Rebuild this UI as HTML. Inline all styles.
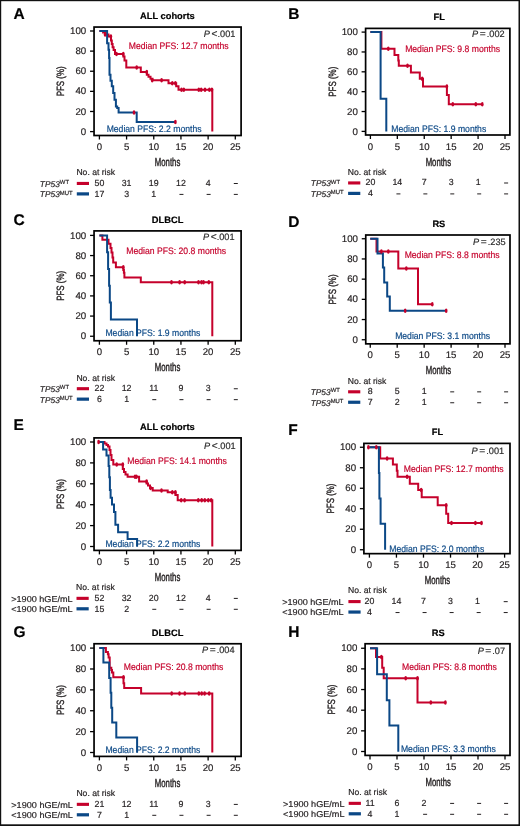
<!DOCTYPE html>
<html><head><meta charset="utf-8"><title>Figure</title>
<style>
html,body{margin:0;padding:0;background:#fff;}
body{width:520px;height:826px;overflow:hidden;}
svg{display:block;font-family:"Liberation Sans", sans-serif;will-change:transform;text-rendering:geometricPrecision;}
.wrap{opacity:0.999;}
</style></head><body><div class="wrap">
<svg width="520" height="826" viewBox="0 0 520 826">
<rect x="0" y="0" width="520" height="826" fill="#fff"/>
<rect x="0" y="0" width="520" height="1.2" fill="#111"/>
<rect x="0" y="0" width="1.2" height="826" fill="#111"/>
<rect x="518.5" y="0" width="1.5" height="826" fill="#111"/>
<rect x="0" y="824.3" width="520" height="1.7" fill="#111"/>
<text x="13.50" y="19.00" font-size="15.5" text-anchor="start" font-weight="bold" font-style="normal" fill="#000" stroke="#000" stroke-width="0.18" >A</text>
<text x="167.38" y="19.45" font-size="9.3" text-anchor="middle" font-weight="bold" font-style="normal" fill="#000" stroke="#000" stroke-width="0.18" >ALL cohorts</text>
<rect x="94.05" y="27.05" width="147.05" height="108.45" fill="none" stroke="#000" stroke-width="1.7"/>
<line x1="90.05" y1="131.60" x2="94.05" y2="131.60" stroke="#000" stroke-width="1.3"/>
<text x="86.25" y="134.70" font-size="9.7" text-anchor="end" font-weight="normal" font-style="normal" fill="#231f20" stroke="#231f20" stroke-width="0.18" >0</text>
<line x1="90.05" y1="111.48" x2="94.05" y2="111.48" stroke="#000" stroke-width="1.3"/>
<text x="86.25" y="114.58" font-size="9.7" text-anchor="end" font-weight="normal" font-style="normal" fill="#231f20" stroke="#231f20" stroke-width="0.18" >20</text>
<line x1="90.05" y1="91.36" x2="94.05" y2="91.36" stroke="#000" stroke-width="1.3"/>
<text x="86.25" y="94.46" font-size="9.7" text-anchor="end" font-weight="normal" font-style="normal" fill="#231f20" stroke="#231f20" stroke-width="0.18" >40</text>
<line x1="90.05" y1="71.24" x2="94.05" y2="71.24" stroke="#000" stroke-width="1.3"/>
<text x="86.25" y="74.34" font-size="9.7" text-anchor="end" font-weight="normal" font-style="normal" fill="#231f20" stroke="#231f20" stroke-width="0.18" >60</text>
<line x1="90.05" y1="51.12" x2="94.05" y2="51.12" stroke="#000" stroke-width="1.3"/>
<text x="86.25" y="54.22" font-size="9.7" text-anchor="end" font-weight="normal" font-style="normal" fill="#231f20" stroke="#231f20" stroke-width="0.18" >80</text>
<line x1="90.05" y1="31.00" x2="94.05" y2="31.00" stroke="#000" stroke-width="1.3"/>
<text x="86.25" y="34.10" font-size="9.7" text-anchor="end" font-weight="normal" font-style="normal" fill="#231f20" stroke="#231f20" stroke-width="0.18" >100</text>
<line x1="99.40" y1="135.50" x2="99.40" y2="139.50" stroke="#000" stroke-width="1.3"/>
<text x="99.40" y="150.00" font-size="9.6" text-anchor="middle" font-weight="normal" font-style="normal" fill="#231f20" stroke="#231f20" stroke-width="0.18" >0</text>
<line x1="126.58" y1="135.50" x2="126.58" y2="139.50" stroke="#000" stroke-width="1.3"/>
<text x="126.58" y="150.00" font-size="9.6" text-anchor="middle" font-weight="normal" font-style="normal" fill="#231f20" stroke="#231f20" stroke-width="0.18" >5</text>
<line x1="153.76" y1="135.50" x2="153.76" y2="139.50" stroke="#000" stroke-width="1.3"/>
<text x="153.76" y="150.00" font-size="9.6" text-anchor="middle" font-weight="normal" font-style="normal" fill="#231f20" stroke="#231f20" stroke-width="0.18" >10</text>
<line x1="180.94" y1="135.50" x2="180.94" y2="139.50" stroke="#000" stroke-width="1.3"/>
<text x="180.94" y="150.00" font-size="9.6" text-anchor="middle" font-weight="normal" font-style="normal" fill="#231f20" stroke="#231f20" stroke-width="0.18" >15</text>
<line x1="208.12" y1="135.50" x2="208.12" y2="139.50" stroke="#000" stroke-width="1.3"/>
<text x="208.12" y="150.00" font-size="9.6" text-anchor="middle" font-weight="normal" font-style="normal" fill="#231f20" stroke="#231f20" stroke-width="0.18" >20</text>
<line x1="235.30" y1="135.50" x2="235.30" y2="139.50" stroke="#000" stroke-width="1.3"/>
<text x="235.30" y="150.00" font-size="9.6" text-anchor="middle" font-weight="normal" font-style="normal" fill="#231f20" stroke="#231f20" stroke-width="0.18" >25</text>
<text x="167.57" y="166.00" font-size="11.6" text-anchor="middle" fill="#231f20" stroke="#231f20" stroke-width="0.42" textLength="25.4" lengthAdjust="spacingAndGlyphs">Months</text>
<text transform="translate(64.05,81.28) rotate(-90)" x="0" y="0" font-size="10.5" text-anchor="middle" fill="#231f20" stroke="#231f20" stroke-width="0.36" textLength="30" lengthAdjust="spacingAndGlyphs">PFS (%)</text>
<text x="235.40" y="36.50" font-size="9.2" text-anchor="end" fill="#2b2b2b" stroke="#2b2b2b" stroke-width="0.18"><tspan font-style="italic">P</tspan><tspan dx="1.6" font-size="10.2">&lt;</tspan><tspan dx="0.1">.001</tspan></text>
<text x="128.84" y="48.60" font-size="9.4" text-anchor="start" font-weight="normal" font-style="normal" fill="#c5002b" stroke="#c5002b" stroke-width="0.18" textLength="99.66" lengthAdjust="spacingAndGlyphs">Median PFS: 12.7 months</text>
<text x="106.63" y="131.60" font-size="9.4" text-anchor="start" font-weight="normal" font-style="normal" fill="#0b4886" stroke="#0b4886" stroke-width="0.18" textLength="94.87" lengthAdjust="spacingAndGlyphs">Median PFS: 2.2 months</text>
<path d="M99.4,31 H103.1 V32.6 H105.5 V34.6 H108.5 V36.4 H111 V40.5 H111.8 V44 H112.6 V47.2 H113.6 V50 H115 V53.9 H123.3 V56.5 H124.5 V60.6 H126.3 V67.4 H140.8 V72.1 H146.8 V74.8 H148.5 V76.8 H150.5 V78.8 H152.5 V80.2 H168.5 V83.2 H176.2 V86.2 H178.5 V89.8 H212.3 V131.6" fill="none" stroke="#c5002b" stroke-width="2.0" stroke-linejoin="miter"/>
<path d="M99.4,31 H107.1 V43.3 H108.5 V49.8 H109.1 V58 H109.5 V74.8 H110.5 V80.8 H111.8 V86.2 H113.2 V92.9 H114.5 V99.7 H115.9 V106.4 H117.2 V108 H118.6 V112.5 H136.7 V122 H175.4" fill="none" stroke="#0b4886" stroke-width="2.0" stroke-linejoin="miter"/>
<ellipse cx="105.10" cy="34.60" rx="1.35" ry="2.25" fill="#c5002b"/>
<ellipse cx="110.90" cy="36.40" rx="1.35" ry="2.25" fill="#c5002b"/>
<ellipse cx="116.50" cy="53.90" rx="1.35" ry="2.25" fill="#c5002b"/>
<ellipse cx="123.30" cy="53.90" rx="1.35" ry="2.25" fill="#c5002b"/>
<ellipse cx="136.70" cy="67.40" rx="1.35" ry="2.25" fill="#c5002b"/>
<ellipse cx="146.80" cy="72.10" rx="1.35" ry="2.25" fill="#c5002b"/>
<ellipse cx="152.20" cy="80.20" rx="1.35" ry="2.25" fill="#c5002b"/>
<ellipse cx="161.60" cy="80.20" rx="1.35" ry="2.25" fill="#c5002b"/>
<ellipse cx="172.30" cy="83.20" rx="1.35" ry="2.25" fill="#c5002b"/>
<ellipse cx="175.40" cy="83.20" rx="1.35" ry="2.25" fill="#c5002b"/>
<ellipse cx="181.50" cy="89.80" rx="1.35" ry="2.25" fill="#c5002b"/>
<ellipse cx="183.80" cy="89.80" rx="1.35" ry="2.25" fill="#c5002b"/>
<ellipse cx="198.80" cy="89.80" rx="1.35" ry="2.25" fill="#c5002b"/>
<ellipse cx="201.20" cy="89.80" rx="1.35" ry="2.25" fill="#c5002b"/>
<ellipse cx="205.00" cy="89.80" rx="1.35" ry="2.25" fill="#c5002b"/>
<ellipse cx="209.40" cy="89.80" rx="1.35" ry="2.25" fill="#c5002b"/>
<ellipse cx="211.90" cy="89.80" rx="1.35" ry="2.25" fill="#c5002b"/>
<ellipse cx="134.00" cy="112.50" rx="1.35" ry="2.25" fill="#c5002b"/>
<ellipse cx="175.40" cy="122.00" rx="1.35" ry="2.25" fill="#c5002b"/>
<text x="76.40" y="175.30" font-size="8.6" text-anchor="start" font-weight="normal" font-style="normal" fill="#231f20" stroke="#231f20" stroke-width="0.18" >No. at risk</text>
<rect x="76.80" y="181.90" width="12.2" height="3.1" fill="#c5002b"/>
<rect x="76.80" y="192.30" width="12.2" height="3.2" fill="#0b4886"/>
<text x="39.80" y="186.80" font-size="8.4" fill="#231f20" stroke="#231f20" stroke-width="0.18"><tspan font-style="italic">TP53</tspan><tspan font-size="5.9" dy="-2.7">WT</tspan></text>
<text x="39.80" y="197.30" font-size="8.4" fill="#231f20" stroke="#231f20" stroke-width="0.18"><tspan font-style="italic">TP53</tspan><tspan font-size="5.9" dy="-2.7">MUT</tspan></text>
<text x="99.40" y="185.90" font-size="8.8" text-anchor="middle" font-weight="normal" font-style="normal" fill="#231f20" stroke="#231f20" stroke-width="0.18" >50</text>
<text x="99.40" y="196.80" font-size="8.8" text-anchor="middle" font-weight="normal" font-style="normal" fill="#231f20" stroke="#231f20" stroke-width="0.18" >17</text>
<text x="126.58" y="185.90" font-size="8.8" text-anchor="middle" font-weight="normal" font-style="normal" fill="#231f20" stroke="#231f20" stroke-width="0.18" >31</text>
<text x="126.58" y="196.80" font-size="8.8" text-anchor="middle" font-weight="normal" font-style="normal" fill="#231f20" stroke="#231f20" stroke-width="0.18" >3</text>
<text x="153.76" y="185.90" font-size="8.8" text-anchor="middle" font-weight="normal" font-style="normal" fill="#231f20" stroke="#231f20" stroke-width="0.18" >19</text>
<text x="153.76" y="196.80" font-size="8.8" text-anchor="middle" font-weight="normal" font-style="normal" fill="#231f20" stroke="#231f20" stroke-width="0.18" >1</text>
<text x="180.94" y="185.90" font-size="8.8" text-anchor="middle" font-weight="normal" font-style="normal" fill="#231f20" stroke="#231f20" stroke-width="0.18" >12</text>
<rect x="179.44" y="193.90" width="4.0" height="1.0" fill="#231f20"/>
<text x="208.12" y="185.90" font-size="8.8" text-anchor="middle" font-weight="normal" font-style="normal" fill="#231f20" stroke="#231f20" stroke-width="0.18" >4</text>
<rect x="206.62" y="193.90" width="4.0" height="1.0" fill="#231f20"/>
<rect x="233.80" y="183.00" width="4.0" height="1.0" fill="#231f20"/>
<rect x="233.80" y="193.90" width="4.0" height="1.0" fill="#231f20"/>
<text x="288.20" y="19.00" font-size="15.5" text-anchor="start" font-weight="bold" font-style="normal" fill="#000" stroke="#000" stroke-width="0.18" >B</text>
<text x="439.15" y="20.40" font-size="9.3" text-anchor="middle" font-weight="bold" font-style="normal" fill="#000" stroke="#000" stroke-width="0.18" >FL</text>
<rect x="365.6" y="28.4" width="144.30" height="106.60" fill="none" stroke="#000" stroke-width="1.7"/>
<line x1="361.60" y1="131.40" x2="365.60" y2="131.40" stroke="#000" stroke-width="1.3"/>
<text x="357.80" y="134.50" font-size="9.7" text-anchor="end" font-weight="normal" font-style="normal" fill="#231f20" stroke="#231f20" stroke-width="0.18" >0</text>
<line x1="361.60" y1="111.54" x2="365.60" y2="111.54" stroke="#000" stroke-width="1.3"/>
<text x="357.80" y="114.64" font-size="9.7" text-anchor="end" font-weight="normal" font-style="normal" fill="#231f20" stroke="#231f20" stroke-width="0.18" >20</text>
<line x1="361.60" y1="91.68" x2="365.60" y2="91.68" stroke="#000" stroke-width="1.3"/>
<text x="357.80" y="94.78" font-size="9.7" text-anchor="end" font-weight="normal" font-style="normal" fill="#231f20" stroke="#231f20" stroke-width="0.18" >40</text>
<line x1="361.60" y1="71.82" x2="365.60" y2="71.82" stroke="#000" stroke-width="1.3"/>
<text x="357.80" y="74.92" font-size="9.7" text-anchor="end" font-weight="normal" font-style="normal" fill="#231f20" stroke="#231f20" stroke-width="0.18" >60</text>
<line x1="361.60" y1="51.96" x2="365.60" y2="51.96" stroke="#000" stroke-width="1.3"/>
<text x="357.80" y="55.06" font-size="9.7" text-anchor="end" font-weight="normal" font-style="normal" fill="#231f20" stroke="#231f20" stroke-width="0.18" >80</text>
<line x1="361.60" y1="32.10" x2="365.60" y2="32.10" stroke="#000" stroke-width="1.3"/>
<text x="357.80" y="35.20" font-size="9.7" text-anchor="end" font-weight="normal" font-style="normal" fill="#231f20" stroke="#231f20" stroke-width="0.18" >100</text>
<line x1="370.40" y1="135.00" x2="370.40" y2="139.00" stroke="#000" stroke-width="1.3"/>
<text x="370.40" y="149.50" font-size="9.6" text-anchor="middle" font-weight="normal" font-style="normal" fill="#231f20" stroke="#231f20" stroke-width="0.18" >0</text>
<line x1="397.32" y1="135.00" x2="397.32" y2="139.00" stroke="#000" stroke-width="1.3"/>
<text x="397.32" y="149.50" font-size="9.6" text-anchor="middle" font-weight="normal" font-style="normal" fill="#231f20" stroke="#231f20" stroke-width="0.18" >5</text>
<line x1="424.24" y1="135.00" x2="424.24" y2="139.00" stroke="#000" stroke-width="1.3"/>
<text x="424.24" y="149.50" font-size="9.6" text-anchor="middle" font-weight="normal" font-style="normal" fill="#231f20" stroke="#231f20" stroke-width="0.18" >10</text>
<line x1="451.16" y1="135.00" x2="451.16" y2="139.00" stroke="#000" stroke-width="1.3"/>
<text x="451.16" y="149.50" font-size="9.6" text-anchor="middle" font-weight="normal" font-style="normal" fill="#231f20" stroke="#231f20" stroke-width="0.18" >15</text>
<line x1="478.08" y1="135.00" x2="478.08" y2="139.00" stroke="#000" stroke-width="1.3"/>
<text x="478.08" y="149.50" font-size="9.6" text-anchor="middle" font-weight="normal" font-style="normal" fill="#231f20" stroke="#231f20" stroke-width="0.18" >20</text>
<line x1="505.00" y1="135.00" x2="505.00" y2="139.00" stroke="#000" stroke-width="1.3"/>
<text x="505.00" y="149.50" font-size="9.6" text-anchor="middle" font-weight="normal" font-style="normal" fill="#231f20" stroke="#231f20" stroke-width="0.18" >25</text>
<text x="438.35" y="165.50" font-size="11.6" text-anchor="middle" fill="#231f20" stroke="#231f20" stroke-width="0.42" textLength="25.4" lengthAdjust="spacingAndGlyphs">Months</text>
<text transform="translate(335.60,81.70) rotate(-90)" x="0" y="0" font-size="10.5" text-anchor="middle" fill="#231f20" stroke="#231f20" stroke-width="0.36" textLength="30" lengthAdjust="spacingAndGlyphs">PFS (%)</text>
<text x="504.70" y="36.50" font-size="9.2" text-anchor="end" fill="#2b2b2b" stroke="#2b2b2b" stroke-width="0.18"><tspan font-style="italic">P</tspan><tspan dx="1.6" font-size="10.2">=</tspan><tspan dx="1.0">.002</tspan></text>
<text x="405.13" y="51.80" font-size="9.4" text-anchor="start" font-weight="normal" font-style="normal" fill="#c5002b" stroke="#c5002b" stroke-width="0.18" textLength="94.87" lengthAdjust="spacingAndGlyphs">Median PFS: 9.8 months</text>
<text x="391.33" y="132.20" font-size="9.4" text-anchor="start" font-weight="normal" font-style="normal" fill="#0b4886" stroke="#0b4886" stroke-width="0.18" textLength="94.87" lengthAdjust="spacingAndGlyphs">Median PFS: 1.9 months</text>
<path d="M370.4,32.1 H381.4 V48.8 H394.5 V54.9 H398.3 V60.6 H398.8 V65.7 H410.9 V72.6 H419.8 V78.8 H423 V86.5 H446.9 V94.9 H448.8 V104.2 H482.3" fill="none" stroke="#c5002b" stroke-width="2.0" stroke-linejoin="miter"/>
<path d="M370.4,32.1 H380.6 V98.8 H386.3 V131.4" fill="none" stroke="#0b4886" stroke-width="2.0" stroke-linejoin="miter"/>
<ellipse cx="388.30" cy="48.80" rx="1.35" ry="2.25" fill="#c5002b"/>
<ellipse cx="407.50" cy="65.70" rx="1.35" ry="2.25" fill="#c5002b"/>
<ellipse cx="422.20" cy="78.80" rx="1.35" ry="2.25" fill="#c5002b"/>
<ellipse cx="446.90" cy="86.50" rx="1.35" ry="2.25" fill="#c5002b"/>
<ellipse cx="452.80" cy="104.20" rx="1.35" ry="2.25" fill="#c5002b"/>
<ellipse cx="475.80" cy="104.20" rx="1.35" ry="2.25" fill="#c5002b"/>
<ellipse cx="482.30" cy="104.20" rx="1.35" ry="2.25" fill="#c5002b"/>
<text x="347.70" y="174.80" font-size="8.6" text-anchor="start" font-weight="normal" font-style="normal" fill="#231f20" stroke="#231f20" stroke-width="0.18" >No. at risk</text>
<rect x="348.10" y="181.40" width="12.2" height="3.1" fill="#c5002b"/>
<rect x="348.10" y="191.80" width="12.2" height="3.2" fill="#0b4886"/>
<text x="310.80" y="186.30" font-size="8.4" fill="#231f20" stroke="#231f20" stroke-width="0.18"><tspan font-style="italic">TP53</tspan><tspan font-size="5.9" dy="-2.7">WT</tspan></text>
<text x="310.80" y="196.80" font-size="8.4" fill="#231f20" stroke="#231f20" stroke-width="0.18"><tspan font-style="italic">TP53</tspan><tspan font-size="5.9" dy="-2.7">MUT</tspan></text>
<text x="370.40" y="185.40" font-size="8.8" text-anchor="middle" font-weight="normal" font-style="normal" fill="#231f20" stroke="#231f20" stroke-width="0.18" >20</text>
<text x="370.40" y="196.30" font-size="8.8" text-anchor="middle" font-weight="normal" font-style="normal" fill="#231f20" stroke="#231f20" stroke-width="0.18" >4</text>
<text x="397.32" y="185.40" font-size="8.8" text-anchor="middle" font-weight="normal" font-style="normal" fill="#231f20" stroke="#231f20" stroke-width="0.18" >14</text>
<rect x="396.42" y="193.40" width="4.0" height="1.0" fill="#231f20"/>
<text x="424.24" y="185.40" font-size="8.8" text-anchor="middle" font-weight="normal" font-style="normal" fill="#231f20" stroke="#231f20" stroke-width="0.18" >7</text>
<rect x="423.34" y="193.40" width="4.0" height="1.0" fill="#231f20"/>
<text x="451.16" y="185.40" font-size="8.8" text-anchor="middle" font-weight="normal" font-style="normal" fill="#231f20" stroke="#231f20" stroke-width="0.18" >3</text>
<rect x="450.26" y="193.40" width="4.0" height="1.0" fill="#231f20"/>
<text x="478.08" y="185.40" font-size="8.8" text-anchor="middle" font-weight="normal" font-style="normal" fill="#231f20" stroke="#231f20" stroke-width="0.18" >1</text>
<rect x="477.18" y="193.40" width="4.0" height="1.0" fill="#231f20"/>
<rect x="504.10" y="182.50" width="4.0" height="1.0" fill="#231f20"/>
<rect x="504.10" y="193.40" width="4.0" height="1.0" fill="#231f20"/>
<text x="13.50" y="225.00" font-size="15.5" text-anchor="start" font-weight="bold" font-style="normal" fill="#000" stroke="#000" stroke-width="0.18" >C</text>
<text x="167.57" y="223.30" font-size="9.3" text-anchor="middle" font-weight="bold" font-style="normal" fill="#000" stroke="#000" stroke-width="0.18" >DLBCL</text>
<rect x="94.05" y="230.9" width="147.05" height="109.85" fill="none" stroke="#000" stroke-width="1.7"/>
<line x1="90.05" y1="336.25" x2="94.05" y2="336.25" stroke="#000" stroke-width="1.3"/>
<text x="86.25" y="339.35" font-size="9.7" text-anchor="end" font-weight="normal" font-style="normal" fill="#231f20" stroke="#231f20" stroke-width="0.18" >0</text>
<line x1="90.05" y1="316.08" x2="94.05" y2="316.08" stroke="#000" stroke-width="1.3"/>
<text x="86.25" y="319.18" font-size="9.7" text-anchor="end" font-weight="normal" font-style="normal" fill="#231f20" stroke="#231f20" stroke-width="0.18" >20</text>
<line x1="90.05" y1="295.91" x2="94.05" y2="295.91" stroke="#000" stroke-width="1.3"/>
<text x="86.25" y="299.01" font-size="9.7" text-anchor="end" font-weight="normal" font-style="normal" fill="#231f20" stroke="#231f20" stroke-width="0.18" >40</text>
<line x1="90.05" y1="275.74" x2="94.05" y2="275.74" stroke="#000" stroke-width="1.3"/>
<text x="86.25" y="278.84" font-size="9.7" text-anchor="end" font-weight="normal" font-style="normal" fill="#231f20" stroke="#231f20" stroke-width="0.18" >60</text>
<line x1="90.05" y1="255.57" x2="94.05" y2="255.57" stroke="#000" stroke-width="1.3"/>
<text x="86.25" y="258.67" font-size="9.7" text-anchor="end" font-weight="normal" font-style="normal" fill="#231f20" stroke="#231f20" stroke-width="0.18" >80</text>
<line x1="90.05" y1="235.40" x2="94.05" y2="235.40" stroke="#000" stroke-width="1.3"/>
<text x="86.25" y="238.50" font-size="9.7" text-anchor="end" font-weight="normal" font-style="normal" fill="#231f20" stroke="#231f20" stroke-width="0.18" >100</text>
<line x1="99.40" y1="340.75" x2="99.40" y2="344.75" stroke="#000" stroke-width="1.3"/>
<text x="99.40" y="355.25" font-size="9.6" text-anchor="middle" font-weight="normal" font-style="normal" fill="#231f20" stroke="#231f20" stroke-width="0.18" >0</text>
<line x1="126.58" y1="340.75" x2="126.58" y2="344.75" stroke="#000" stroke-width="1.3"/>
<text x="126.58" y="355.25" font-size="9.6" text-anchor="middle" font-weight="normal" font-style="normal" fill="#231f20" stroke="#231f20" stroke-width="0.18" >5</text>
<line x1="153.76" y1="340.75" x2="153.76" y2="344.75" stroke="#000" stroke-width="1.3"/>
<text x="153.76" y="355.25" font-size="9.6" text-anchor="middle" font-weight="normal" font-style="normal" fill="#231f20" stroke="#231f20" stroke-width="0.18" >10</text>
<line x1="180.94" y1="340.75" x2="180.94" y2="344.75" stroke="#000" stroke-width="1.3"/>
<text x="180.94" y="355.25" font-size="9.6" text-anchor="middle" font-weight="normal" font-style="normal" fill="#231f20" stroke="#231f20" stroke-width="0.18" >15</text>
<line x1="208.12" y1="340.75" x2="208.12" y2="344.75" stroke="#000" stroke-width="1.3"/>
<text x="208.12" y="355.25" font-size="9.6" text-anchor="middle" font-weight="normal" font-style="normal" fill="#231f20" stroke="#231f20" stroke-width="0.18" >20</text>
<line x1="235.30" y1="340.75" x2="235.30" y2="344.75" stroke="#000" stroke-width="1.3"/>
<text x="235.30" y="355.25" font-size="9.6" text-anchor="middle" font-weight="normal" font-style="normal" fill="#231f20" stroke="#231f20" stroke-width="0.18" >25</text>
<text x="167.57" y="371.25" font-size="11.6" text-anchor="middle" fill="#231f20" stroke="#231f20" stroke-width="0.42" textLength="25.4" lengthAdjust="spacingAndGlyphs">Months</text>
<text transform="translate(64.05,285.82) rotate(-90)" x="0" y="0" font-size="10.5" text-anchor="middle" fill="#231f20" stroke="#231f20" stroke-width="0.36" textLength="30" lengthAdjust="spacingAndGlyphs">PFS (%)</text>
<text x="234.60" y="240.20" font-size="9.2" text-anchor="end" fill="#2b2b2b" stroke="#2b2b2b" stroke-width="0.18"><tspan font-style="italic">P</tspan><tspan dx="1.6" font-size="10.2">&lt;</tspan><tspan dx="0.1">.001</tspan></text>
<text x="126.34" y="253.90" font-size="9.4" text-anchor="start" font-weight="normal" font-style="normal" fill="#c5002b" stroke="#c5002b" stroke-width="0.18" textLength="99.66" lengthAdjust="spacingAndGlyphs">Median PFS: 20.8 months</text>
<text x="105.43" y="336.10" font-size="9.4" text-anchor="start" font-weight="normal" font-style="normal" fill="#0b4886" stroke="#0b4886" stroke-width="0.18" textLength="94.87" lengthAdjust="spacingAndGlyphs">Median PFS: 1.9 months</text>
<path d="M99.4,235.4 H102.4 V239.7 H108.5 V243.8 H110.5 V248 H111.5 V252.5 H112.5 V257.5 H113.2 V262.6 H115.9 V267.3 H123.3 V270 H123.9 V272.7 H124.4 V277.4 H140.8 V282.3 H212.3 V336.25" fill="none" stroke="#c5002b" stroke-width="2.0" stroke-linejoin="miter"/>
<path d="M99.4,235.4 H107.1 V252.2 H108.1 V269 H109.1 V285.8 H109.8 V302.6 H110.9 V319.4 H137 V336.25" fill="none" stroke="#0b4886" stroke-width="2.0" stroke-linejoin="miter"/>
<ellipse cx="123.30" cy="267.30" rx="1.35" ry="2.25" fill="#c5002b"/>
<ellipse cx="171.50" cy="282.30" rx="1.35" ry="2.25" fill="#c5002b"/>
<ellipse cx="179.60" cy="282.30" rx="1.35" ry="2.25" fill="#c5002b"/>
<ellipse cx="184.70" cy="282.30" rx="1.35" ry="2.25" fill="#c5002b"/>
<ellipse cx="198.50" cy="282.30" rx="1.35" ry="2.25" fill="#c5002b"/>
<ellipse cx="201.50" cy="282.30" rx="1.35" ry="2.25" fill="#c5002b"/>
<ellipse cx="203.50" cy="282.30" rx="1.35" ry="2.25" fill="#c5002b"/>
<ellipse cx="208.80" cy="282.30" rx="1.35" ry="2.25" fill="#c5002b"/>
<text x="76.40" y="380.55" font-size="8.6" text-anchor="start" font-weight="normal" font-style="normal" fill="#231f20" stroke="#231f20" stroke-width="0.18" >No. at risk</text>
<rect x="76.80" y="387.15" width="12.2" height="3.1" fill="#c5002b"/>
<rect x="76.80" y="397.55" width="12.2" height="3.2" fill="#0b4886"/>
<text x="39.80" y="392.05" font-size="8.4" fill="#231f20" stroke="#231f20" stroke-width="0.18"><tspan font-style="italic">TP53</tspan><tspan font-size="5.9" dy="-2.7">WT</tspan></text>
<text x="39.80" y="402.55" font-size="8.4" fill="#231f20" stroke="#231f20" stroke-width="0.18"><tspan font-style="italic">TP53</tspan><tspan font-size="5.9" dy="-2.7">MUT</tspan></text>
<text x="99.40" y="391.15" font-size="8.8" text-anchor="middle" font-weight="normal" font-style="normal" fill="#231f20" stroke="#231f20" stroke-width="0.18" >22</text>
<text x="99.40" y="402.05" font-size="8.8" text-anchor="middle" font-weight="normal" font-style="normal" fill="#231f20" stroke="#231f20" stroke-width="0.18" >6</text>
<text x="126.58" y="391.15" font-size="8.8" text-anchor="middle" font-weight="normal" font-style="normal" fill="#231f20" stroke="#231f20" stroke-width="0.18" >12</text>
<text x="126.58" y="402.05" font-size="8.8" text-anchor="middle" font-weight="normal" font-style="normal" fill="#231f20" stroke="#231f20" stroke-width="0.18" >1</text>
<text x="153.76" y="391.15" font-size="8.8" text-anchor="middle" font-weight="normal" font-style="normal" fill="#231f20" stroke="#231f20" stroke-width="0.18" >11</text>
<rect x="152.26" y="399.15" width="4.0" height="1.0" fill="#231f20"/>
<text x="180.94" y="391.15" font-size="8.8" text-anchor="middle" font-weight="normal" font-style="normal" fill="#231f20" stroke="#231f20" stroke-width="0.18" >9</text>
<rect x="179.44" y="399.15" width="4.0" height="1.0" fill="#231f20"/>
<text x="208.12" y="391.15" font-size="8.8" text-anchor="middle" font-weight="normal" font-style="normal" fill="#231f20" stroke="#231f20" stroke-width="0.18" >3</text>
<rect x="206.62" y="399.15" width="4.0" height="1.0" fill="#231f20"/>
<rect x="233.80" y="388.25" width="4.0" height="1.0" fill="#231f20"/>
<rect x="233.80" y="399.15" width="4.0" height="1.0" fill="#231f20"/>
<text x="288.20" y="227.00" font-size="15.5" text-anchor="start" font-weight="bold" font-style="normal" fill="#000" stroke="#000" stroke-width="0.18" >D</text>
<text x="438.88" y="227.10" font-size="9.3" text-anchor="middle" font-weight="bold" font-style="normal" fill="#000" stroke="#000" stroke-width="0.18" >RS</text>
<rect x="365.75" y="235.0" width="144.25" height="108.85" fill="none" stroke="#000" stroke-width="1.7"/>
<line x1="361.75" y1="339.75" x2="365.75" y2="339.75" stroke="#000" stroke-width="1.3"/>
<text x="357.95" y="342.85" font-size="9.7" text-anchor="end" font-weight="normal" font-style="normal" fill="#231f20" stroke="#231f20" stroke-width="0.18" >0</text>
<line x1="361.75" y1="319.55" x2="365.75" y2="319.55" stroke="#000" stroke-width="1.3"/>
<text x="357.95" y="322.65" font-size="9.7" text-anchor="end" font-weight="normal" font-style="normal" fill="#231f20" stroke="#231f20" stroke-width="0.18" >20</text>
<line x1="361.75" y1="299.35" x2="365.75" y2="299.35" stroke="#000" stroke-width="1.3"/>
<text x="357.95" y="302.45" font-size="9.7" text-anchor="end" font-weight="normal" font-style="normal" fill="#231f20" stroke="#231f20" stroke-width="0.18" >40</text>
<line x1="361.75" y1="279.15" x2="365.75" y2="279.15" stroke="#000" stroke-width="1.3"/>
<text x="357.95" y="282.25" font-size="9.7" text-anchor="end" font-weight="normal" font-style="normal" fill="#231f20" stroke="#231f20" stroke-width="0.18" >60</text>
<line x1="361.75" y1="258.95" x2="365.75" y2="258.95" stroke="#000" stroke-width="1.3"/>
<text x="357.95" y="262.05" font-size="9.7" text-anchor="end" font-weight="normal" font-style="normal" fill="#231f20" stroke="#231f20" stroke-width="0.18" >80</text>
<line x1="361.75" y1="238.75" x2="365.75" y2="238.75" stroke="#000" stroke-width="1.3"/>
<text x="357.95" y="241.85" font-size="9.7" text-anchor="end" font-weight="normal" font-style="normal" fill="#231f20" stroke="#231f20" stroke-width="0.18" >100</text>
<line x1="370.25" y1="343.85" x2="370.25" y2="347.85" stroke="#000" stroke-width="1.3"/>
<text x="370.25" y="358.35" font-size="9.6" text-anchor="middle" font-weight="normal" font-style="normal" fill="#231f20" stroke="#231f20" stroke-width="0.18" >0</text>
<line x1="397.20" y1="343.85" x2="397.20" y2="347.85" stroke="#000" stroke-width="1.3"/>
<text x="397.20" y="358.35" font-size="9.6" text-anchor="middle" font-weight="normal" font-style="normal" fill="#231f20" stroke="#231f20" stroke-width="0.18" >5</text>
<line x1="424.15" y1="343.85" x2="424.15" y2="347.85" stroke="#000" stroke-width="1.3"/>
<text x="424.15" y="358.35" font-size="9.6" text-anchor="middle" font-weight="normal" font-style="normal" fill="#231f20" stroke="#231f20" stroke-width="0.18" >10</text>
<line x1="451.10" y1="343.85" x2="451.10" y2="347.85" stroke="#000" stroke-width="1.3"/>
<text x="451.10" y="358.35" font-size="9.6" text-anchor="middle" font-weight="normal" font-style="normal" fill="#231f20" stroke="#231f20" stroke-width="0.18" >15</text>
<line x1="478.05" y1="343.85" x2="478.05" y2="347.85" stroke="#000" stroke-width="1.3"/>
<text x="478.05" y="358.35" font-size="9.6" text-anchor="middle" font-weight="normal" font-style="normal" fill="#231f20" stroke="#231f20" stroke-width="0.18" >20</text>
<line x1="505.00" y1="343.85" x2="505.00" y2="347.85" stroke="#000" stroke-width="1.3"/>
<text x="505.00" y="358.35" font-size="9.6" text-anchor="middle" font-weight="normal" font-style="normal" fill="#231f20" stroke="#231f20" stroke-width="0.18" >25</text>
<text x="438.48" y="374.35" font-size="11.6" text-anchor="middle" fill="#231f20" stroke="#231f20" stroke-width="0.42" textLength="25.4" lengthAdjust="spacingAndGlyphs">Months</text>
<text transform="translate(335.75,289.43) rotate(-90)" x="0" y="0" font-size="10.5" text-anchor="middle" fill="#231f20" stroke="#231f20" stroke-width="0.36" textLength="30" lengthAdjust="spacingAndGlyphs">PFS (%)</text>
<text x="505.70" y="244.50" font-size="9.2" text-anchor="end" fill="#2b2b2b" stroke="#2b2b2b" stroke-width="0.18"><tspan font-style="italic">P</tspan><tspan dx="1.6" font-size="10.2">=</tspan><tspan dx="1.0">.235</tspan></text>
<text x="404.63" y="258.00" font-size="9.4" text-anchor="start" font-weight="normal" font-style="normal" fill="#c5002b" stroke="#c5002b" stroke-width="0.18" textLength="94.87" lengthAdjust="spacingAndGlyphs">Median PFS: 8.8 months</text>
<text x="395.13" y="339.40" font-size="9.4" text-anchor="start" font-weight="normal" font-style="normal" fill="#0b4886" stroke="#0b4886" stroke-width="0.18" textLength="94.87" lengthAdjust="spacingAndGlyphs">Median PFS: 3.1 months</text>
<path d="M370.25,238.75 H376.5 V251.6 H398.3 V268.5 H418 V304.2 H432.3" fill="none" stroke="#c5002b" stroke-width="2.0" stroke-linejoin="miter"/>
<path d="M370.25,238.75 H377.5 V253.5 H382.9 V267.6 H384.2 V282.4 H387.2 V296.5 H389.8 V310.7 H446.2" fill="none" stroke="#0b4886" stroke-width="2.0" stroke-linejoin="miter"/>
<ellipse cx="381.40" cy="251.60" rx="1.35" ry="2.25" fill="#c5002b"/>
<ellipse cx="388.30" cy="251.60" rx="1.35" ry="2.25" fill="#c5002b"/>
<ellipse cx="406.30" cy="268.50" rx="1.35" ry="2.25" fill="#c5002b"/>
<ellipse cx="432.30" cy="304.20" rx="1.35" ry="2.25" fill="#c5002b"/>
<ellipse cx="405.20" cy="310.70" rx="1.35" ry="2.25" fill="#c5002b"/>
<ellipse cx="446.20" cy="310.70" rx="1.35" ry="2.25" fill="#c5002b"/>
<text x="347.70" y="383.65" font-size="8.6" text-anchor="start" font-weight="normal" font-style="normal" fill="#231f20" stroke="#231f20" stroke-width="0.18" >No. at risk</text>
<rect x="348.10" y="390.25" width="12.2" height="3.1" fill="#c5002b"/>
<rect x="348.10" y="400.65" width="12.2" height="3.2" fill="#0b4886"/>
<text x="310.65" y="395.15" font-size="8.4" fill="#231f20" stroke="#231f20" stroke-width="0.18"><tspan font-style="italic">TP53</tspan><tspan font-size="5.9" dy="-2.7">WT</tspan></text>
<text x="310.65" y="405.65" font-size="8.4" fill="#231f20" stroke="#231f20" stroke-width="0.18"><tspan font-style="italic">TP53</tspan><tspan font-size="5.9" dy="-2.7">MUT</tspan></text>
<text x="370.25" y="394.25" font-size="8.8" text-anchor="middle" font-weight="normal" font-style="normal" fill="#231f20" stroke="#231f20" stroke-width="0.18" >8</text>
<text x="370.25" y="405.15" font-size="8.8" text-anchor="middle" font-weight="normal" font-style="normal" fill="#231f20" stroke="#231f20" stroke-width="0.18" >7</text>
<text x="397.20" y="394.25" font-size="8.8" text-anchor="middle" font-weight="normal" font-style="normal" fill="#231f20" stroke="#231f20" stroke-width="0.18" >5</text>
<text x="397.20" y="405.15" font-size="8.8" text-anchor="middle" font-weight="normal" font-style="normal" fill="#231f20" stroke="#231f20" stroke-width="0.18" >2</text>
<text x="424.15" y="394.25" font-size="8.8" text-anchor="middle" font-weight="normal" font-style="normal" fill="#231f20" stroke="#231f20" stroke-width="0.18" >1</text>
<text x="424.15" y="405.15" font-size="8.8" text-anchor="middle" font-weight="normal" font-style="normal" fill="#231f20" stroke="#231f20" stroke-width="0.18" >1</text>
<rect x="450.20" y="391.35" width="4.0" height="1.0" fill="#231f20"/>
<rect x="450.20" y="402.25" width="4.0" height="1.0" fill="#231f20"/>
<rect x="477.15" y="391.35" width="4.0" height="1.0" fill="#231f20"/>
<rect x="477.15" y="402.25" width="4.0" height="1.0" fill="#231f20"/>
<rect x="504.10" y="391.35" width="4.0" height="1.0" fill="#231f20"/>
<rect x="504.10" y="402.25" width="4.0" height="1.0" fill="#231f20"/>
<text x="13.50" y="430.00" font-size="15.5" text-anchor="start" font-weight="bold" font-style="normal" fill="#000" stroke="#000" stroke-width="0.18" >E</text>
<text x="167.38" y="430.00" font-size="9.3" text-anchor="middle" font-weight="bold" font-style="normal" fill="#000" stroke="#000" stroke-width="0.18" >ALL cohorts</text>
<rect x="94.05" y="437.9" width="147.05" height="112.50" fill="none" stroke="#000" stroke-width="1.7"/>
<line x1="90.05" y1="546.50" x2="94.05" y2="546.50" stroke="#000" stroke-width="1.3"/>
<text x="86.25" y="549.60" font-size="9.7" text-anchor="end" font-weight="normal" font-style="normal" fill="#231f20" stroke="#231f20" stroke-width="0.18" >0</text>
<line x1="90.05" y1="525.60" x2="94.05" y2="525.60" stroke="#000" stroke-width="1.3"/>
<text x="86.25" y="528.70" font-size="9.7" text-anchor="end" font-weight="normal" font-style="normal" fill="#231f20" stroke="#231f20" stroke-width="0.18" >20</text>
<line x1="90.05" y1="504.70" x2="94.05" y2="504.70" stroke="#000" stroke-width="1.3"/>
<text x="86.25" y="507.80" font-size="9.7" text-anchor="end" font-weight="normal" font-style="normal" fill="#231f20" stroke="#231f20" stroke-width="0.18" >40</text>
<line x1="90.05" y1="483.80" x2="94.05" y2="483.80" stroke="#000" stroke-width="1.3"/>
<text x="86.25" y="486.90" font-size="9.7" text-anchor="end" font-weight="normal" font-style="normal" fill="#231f20" stroke="#231f20" stroke-width="0.18" >60</text>
<line x1="90.05" y1="462.90" x2="94.05" y2="462.90" stroke="#000" stroke-width="1.3"/>
<text x="86.25" y="466.00" font-size="9.7" text-anchor="end" font-weight="normal" font-style="normal" fill="#231f20" stroke="#231f20" stroke-width="0.18" >80</text>
<line x1="90.05" y1="442.00" x2="94.05" y2="442.00" stroke="#000" stroke-width="1.3"/>
<text x="86.25" y="445.10" font-size="9.7" text-anchor="end" font-weight="normal" font-style="normal" fill="#231f20" stroke="#231f20" stroke-width="0.18" >100</text>
<line x1="99.40" y1="550.40" x2="99.40" y2="554.40" stroke="#000" stroke-width="1.3"/>
<text x="99.40" y="564.90" font-size="9.6" text-anchor="middle" font-weight="normal" font-style="normal" fill="#231f20" stroke="#231f20" stroke-width="0.18" >0</text>
<line x1="126.58" y1="550.40" x2="126.58" y2="554.40" stroke="#000" stroke-width="1.3"/>
<text x="126.58" y="564.90" font-size="9.6" text-anchor="middle" font-weight="normal" font-style="normal" fill="#231f20" stroke="#231f20" stroke-width="0.18" >5</text>
<line x1="153.76" y1="550.40" x2="153.76" y2="554.40" stroke="#000" stroke-width="1.3"/>
<text x="153.76" y="564.90" font-size="9.6" text-anchor="middle" font-weight="normal" font-style="normal" fill="#231f20" stroke="#231f20" stroke-width="0.18" >10</text>
<line x1="180.94" y1="550.40" x2="180.94" y2="554.40" stroke="#000" stroke-width="1.3"/>
<text x="180.94" y="564.90" font-size="9.6" text-anchor="middle" font-weight="normal" font-style="normal" fill="#231f20" stroke="#231f20" stroke-width="0.18" >15</text>
<line x1="208.12" y1="550.40" x2="208.12" y2="554.40" stroke="#000" stroke-width="1.3"/>
<text x="208.12" y="564.90" font-size="9.6" text-anchor="middle" font-weight="normal" font-style="normal" fill="#231f20" stroke="#231f20" stroke-width="0.18" >20</text>
<line x1="235.30" y1="550.40" x2="235.30" y2="554.40" stroke="#000" stroke-width="1.3"/>
<text x="235.30" y="564.90" font-size="9.6" text-anchor="middle" font-weight="normal" font-style="normal" fill="#231f20" stroke="#231f20" stroke-width="0.18" >25</text>
<text x="167.57" y="580.90" font-size="11.6" text-anchor="middle" fill="#231f20" stroke="#231f20" stroke-width="0.42" textLength="25.4" lengthAdjust="spacingAndGlyphs">Months</text>
<text transform="translate(64.05,494.15) rotate(-90)" x="0" y="0" font-size="10.5" text-anchor="middle" fill="#231f20" stroke="#231f20" stroke-width="0.36" textLength="30" lengthAdjust="spacingAndGlyphs">PFS (%)</text>
<text x="235.70" y="448.80" font-size="9.2" text-anchor="end" fill="#2b2b2b" stroke="#2b2b2b" stroke-width="0.18"><tspan font-style="italic">P</tspan><tspan dx="1.6" font-size="10.2">&lt;</tspan><tspan dx="0.1">.001</tspan></text>
<text x="127.24" y="463.60" font-size="9.4" text-anchor="start" font-weight="normal" font-style="normal" fill="#c5002b" stroke="#c5002b" stroke-width="0.18" textLength="99.66" lengthAdjust="spacingAndGlyphs">Median PFS: 14.1 months</text>
<text x="105.43" y="547.10" font-size="9.4" text-anchor="start" font-weight="normal" font-style="normal" fill="#0b4886" stroke="#0b4886" stroke-width="0.18" textLength="94.87" lengthAdjust="spacingAndGlyphs">Median PFS: 2.2 months</text>
<path d="M99.4,442 H104.5 V443.6 H106.5 V445 H108 V446.5 H109.5 V450 H110.5 V455 H111.5 V460 H113.3 V464.5 H122.8 V469 H124 V472 H125.5 V474.5 H127.6 V476.7 H139.1 V481.4 H146.6 V483.5 H148 V485.5 H150 V488 H152.7 V490.6 H167.7 V492.2 H175.4 V494.9 H177.7 V500.3 H212.3 V546.5" fill="none" stroke="#c5002b" stroke-width="2.0" stroke-linejoin="miter"/>
<path d="M99.4,442 H103.1 V449.5 H106.5 V455.6 H108.6 V466 H109.3 V477.3 H109.9 V490 H110.6 V497.7 H112 V504.5 H114 V512 H115.4 V524.8 H118.1 V532.3 H127.6 V539.1 H137.1 V546.5" fill="none" stroke="#0b4886" stroke-width="2.0" stroke-linejoin="miter"/>
<ellipse cx="98.60" cy="442.00" rx="1.35" ry="2.25" fill="#c5002b"/>
<ellipse cx="116.70" cy="464.50" rx="1.35" ry="2.25" fill="#c5002b"/>
<ellipse cx="122.80" cy="464.50" rx="1.35" ry="2.25" fill="#c5002b"/>
<ellipse cx="135.00" cy="476.70" rx="1.35" ry="2.25" fill="#c5002b"/>
<ellipse cx="136.40" cy="476.70" rx="1.35" ry="2.25" fill="#c5002b"/>
<ellipse cx="146.60" cy="481.40" rx="1.35" ry="2.25" fill="#c5002b"/>
<ellipse cx="150.60" cy="488.00" rx="1.35" ry="2.25" fill="#c5002b"/>
<ellipse cx="161.50" cy="490.60" rx="1.35" ry="2.25" fill="#c5002b"/>
<ellipse cx="172.30" cy="492.20" rx="1.35" ry="2.25" fill="#c5002b"/>
<ellipse cx="175.40" cy="492.20" rx="1.35" ry="2.25" fill="#c5002b"/>
<ellipse cx="181.20" cy="500.30" rx="1.35" ry="2.25" fill="#c5002b"/>
<ellipse cx="184.60" cy="500.30" rx="1.35" ry="2.25" fill="#c5002b"/>
<ellipse cx="198.30" cy="500.30" rx="1.35" ry="2.25" fill="#c5002b"/>
<ellipse cx="201.70" cy="500.30" rx="1.35" ry="2.25" fill="#c5002b"/>
<ellipse cx="204.80" cy="500.30" rx="1.35" ry="2.25" fill="#c5002b"/>
<ellipse cx="208.30" cy="500.30" rx="1.35" ry="2.25" fill="#c5002b"/>
<ellipse cx="211.20" cy="500.30" rx="1.35" ry="2.25" fill="#c5002b"/>
<text x="76.10" y="590.20" font-size="8.6" text-anchor="start" font-weight="normal" font-style="normal" fill="#231f20" stroke="#231f20" stroke-width="0.18" >No. at risk</text>
<rect x="76.50" y="596.80" width="12.2" height="3.1" fill="#c5002b"/>
<rect x="76.50" y="607.20" width="12.2" height="3.2" fill="#0b4886"/>
<text x="11.20" y="601.70" font-size="8.6" text-anchor="start" font-weight="normal" font-style="normal" fill="#231f20" stroke="#231f20" stroke-width="0.18" textLength="61.5" lengthAdjust="spacingAndGlyphs">&gt;1900 hGE/mL</text>
<text x="11.20" y="612.20" font-size="8.6" text-anchor="start" font-weight="normal" font-style="normal" fill="#231f20" stroke="#231f20" stroke-width="0.18" textLength="61.5" lengthAdjust="spacingAndGlyphs">&lt;1900 hGE/mL</text>
<text x="99.40" y="600.80" font-size="8.8" text-anchor="middle" font-weight="normal" font-style="normal" fill="#231f20" stroke="#231f20" stroke-width="0.18" >52</text>
<text x="99.40" y="611.70" font-size="8.8" text-anchor="middle" font-weight="normal" font-style="normal" fill="#231f20" stroke="#231f20" stroke-width="0.18" >15</text>
<text x="126.58" y="600.80" font-size="8.8" text-anchor="middle" font-weight="normal" font-style="normal" fill="#231f20" stroke="#231f20" stroke-width="0.18" >32</text>
<text x="126.58" y="611.70" font-size="8.8" text-anchor="middle" font-weight="normal" font-style="normal" fill="#231f20" stroke="#231f20" stroke-width="0.18" >2</text>
<text x="153.76" y="600.80" font-size="8.8" text-anchor="middle" font-weight="normal" font-style="normal" fill="#231f20" stroke="#231f20" stroke-width="0.18" >20</text>
<rect x="152.26" y="608.80" width="4.0" height="1.0" fill="#231f20"/>
<text x="180.94" y="600.80" font-size="8.8" text-anchor="middle" font-weight="normal" font-style="normal" fill="#231f20" stroke="#231f20" stroke-width="0.18" >12</text>
<rect x="179.44" y="608.80" width="4.0" height="1.0" fill="#231f20"/>
<text x="208.12" y="600.80" font-size="8.8" text-anchor="middle" font-weight="normal" font-style="normal" fill="#231f20" stroke="#231f20" stroke-width="0.18" >4</text>
<rect x="206.62" y="608.80" width="4.0" height="1.0" fill="#231f20"/>
<rect x="233.80" y="597.90" width="4.0" height="1.0" fill="#231f20"/>
<rect x="233.80" y="608.80" width="4.0" height="1.0" fill="#231f20"/>
<text x="288.20" y="435.00" font-size="15.5" text-anchor="start" font-weight="bold" font-style="normal" fill="#000" stroke="#000" stroke-width="0.18" >F</text>
<text x="437.45" y="435.40" font-size="9.3" text-anchor="middle" font-weight="bold" font-style="normal" fill="#000" stroke="#000" stroke-width="0.18" >FL</text>
<rect x="363.9" y="443.4" width="146.10" height="110.25" fill="none" stroke="#000" stroke-width="1.7"/>
<line x1="359.90" y1="549.75" x2="363.90" y2="549.75" stroke="#000" stroke-width="1.3"/>
<text x="356.10" y="552.85" font-size="9.7" text-anchor="end" font-weight="normal" font-style="normal" fill="#231f20" stroke="#231f20" stroke-width="0.18" >0</text>
<line x1="359.90" y1="529.25" x2="363.90" y2="529.25" stroke="#000" stroke-width="1.3"/>
<text x="356.10" y="532.35" font-size="9.7" text-anchor="end" font-weight="normal" font-style="normal" fill="#231f20" stroke="#231f20" stroke-width="0.18" >20</text>
<line x1="359.90" y1="508.75" x2="363.90" y2="508.75" stroke="#000" stroke-width="1.3"/>
<text x="356.10" y="511.85" font-size="9.7" text-anchor="end" font-weight="normal" font-style="normal" fill="#231f20" stroke="#231f20" stroke-width="0.18" >40</text>
<line x1="359.90" y1="488.25" x2="363.90" y2="488.25" stroke="#000" stroke-width="1.3"/>
<text x="356.10" y="491.35" font-size="9.7" text-anchor="end" font-weight="normal" font-style="normal" fill="#231f20" stroke="#231f20" stroke-width="0.18" >60</text>
<line x1="359.90" y1="467.75" x2="363.90" y2="467.75" stroke="#000" stroke-width="1.3"/>
<text x="356.10" y="470.85" font-size="9.7" text-anchor="end" font-weight="normal" font-style="normal" fill="#231f20" stroke="#231f20" stroke-width="0.18" >80</text>
<line x1="359.90" y1="447.25" x2="363.90" y2="447.25" stroke="#000" stroke-width="1.3"/>
<text x="356.10" y="450.35" font-size="9.7" text-anchor="end" font-weight="normal" font-style="normal" fill="#231f20" stroke="#231f20" stroke-width="0.18" >100</text>
<line x1="369.40" y1="553.65" x2="369.40" y2="557.65" stroke="#000" stroke-width="1.3"/>
<text x="369.40" y="568.15" font-size="9.6" text-anchor="middle" font-weight="normal" font-style="normal" fill="#231f20" stroke="#231f20" stroke-width="0.18" >0</text>
<line x1="396.44" y1="553.65" x2="396.44" y2="557.65" stroke="#000" stroke-width="1.3"/>
<text x="396.44" y="568.15" font-size="9.6" text-anchor="middle" font-weight="normal" font-style="normal" fill="#231f20" stroke="#231f20" stroke-width="0.18" >5</text>
<line x1="423.48" y1="553.65" x2="423.48" y2="557.65" stroke="#000" stroke-width="1.3"/>
<text x="423.48" y="568.15" font-size="9.6" text-anchor="middle" font-weight="normal" font-style="normal" fill="#231f20" stroke="#231f20" stroke-width="0.18" >10</text>
<line x1="450.52" y1="553.65" x2="450.52" y2="557.65" stroke="#000" stroke-width="1.3"/>
<text x="450.52" y="568.15" font-size="9.6" text-anchor="middle" font-weight="normal" font-style="normal" fill="#231f20" stroke="#231f20" stroke-width="0.18" >15</text>
<line x1="477.56" y1="553.65" x2="477.56" y2="557.65" stroke="#000" stroke-width="1.3"/>
<text x="477.56" y="568.15" font-size="9.6" text-anchor="middle" font-weight="normal" font-style="normal" fill="#231f20" stroke="#231f20" stroke-width="0.18" >20</text>
<line x1="504.60" y1="553.65" x2="504.60" y2="557.65" stroke="#000" stroke-width="1.3"/>
<text x="504.60" y="568.15" font-size="9.6" text-anchor="middle" font-weight="normal" font-style="normal" fill="#231f20" stroke="#231f20" stroke-width="0.18" >25</text>
<text x="437.55" y="584.15" font-size="11.6" text-anchor="middle" fill="#231f20" stroke="#231f20" stroke-width="0.42" textLength="25.4" lengthAdjust="spacingAndGlyphs">Months</text>
<text transform="translate(333.90,498.52) rotate(-90)" x="0" y="0" font-size="10.5" text-anchor="middle" fill="#231f20" stroke="#231f20" stroke-width="0.36" textLength="30" lengthAdjust="spacingAndGlyphs">PFS (%)</text>
<text x="504.20" y="453.50" font-size="9.2" text-anchor="end" fill="#2b2b2b" stroke="#2b2b2b" stroke-width="0.18"><tspan font-style="italic">P</tspan><tspan dx="1.6" font-size="10.2">=</tspan><tspan dx="1.0">.001</tspan></text>
<text x="403.84" y="471.50" font-size="9.4" text-anchor="start" font-weight="normal" font-style="normal" fill="#c5002b" stroke="#c5002b" stroke-width="0.18" textLength="99.66" lengthAdjust="spacingAndGlyphs">Median PFS: 12.7 months</text>
<text x="389.33" y="551.60" font-size="9.4" text-anchor="start" font-weight="normal" font-style="normal" fill="#0b4886" stroke="#0b4886" stroke-width="0.18" textLength="94.87" lengthAdjust="spacingAndGlyphs">Median PFS: 2.0 months</text>
<path d="M369.4,447.25 H380.2 V458.4 H392.9 V464.5 H396.8 V470.7 H397.5 V476.8 H409.8 V483.8 H418.2 V489.9 H421.7 V497.2 H437.7 V505.3 H446.2 V513.8 H448.2 V523 H482.3" fill="none" stroke="#c5002b" stroke-width="2.0" stroke-linejoin="miter"/>
<path d="M369.4,447.25 H378.9 V472.9 H379.4 V498.5 H380.6 V523.8 H385.1 V549.75" fill="none" stroke="#0b4886" stroke-width="2.0" stroke-linejoin="miter"/>
<ellipse cx="368.40" cy="447.25" rx="1.35" ry="2.25" fill="#c5002b"/>
<ellipse cx="376.30" cy="447.25" rx="1.35" ry="2.25" fill="#c5002b"/>
<ellipse cx="387.10" cy="458.40" rx="1.35" ry="2.25" fill="#c5002b"/>
<ellipse cx="407.10" cy="476.80" rx="1.35" ry="2.25" fill="#c5002b"/>
<ellipse cx="421.20" cy="489.90" rx="1.35" ry="2.25" fill="#c5002b"/>
<ellipse cx="446.20" cy="505.30" rx="1.35" ry="2.25" fill="#c5002b"/>
<ellipse cx="451.50" cy="523.00" rx="1.35" ry="2.25" fill="#c5002b"/>
<ellipse cx="475.40" cy="523.00" rx="1.35" ry="2.25" fill="#c5002b"/>
<ellipse cx="481.50" cy="523.00" rx="1.35" ry="2.25" fill="#c5002b"/>
<text x="348.00" y="593.45" font-size="8.6" text-anchor="start" font-weight="normal" font-style="normal" fill="#231f20" stroke="#231f20" stroke-width="0.18" >No. at risk</text>
<rect x="348.40" y="600.05" width="12.2" height="3.1" fill="#c5002b"/>
<rect x="348.40" y="610.45" width="12.2" height="3.2" fill="#0b4886"/>
<text x="282.20" y="604.95" font-size="8.6" text-anchor="start" font-weight="normal" font-style="normal" fill="#231f20" stroke="#231f20" stroke-width="0.18" textLength="61.5" lengthAdjust="spacingAndGlyphs">&gt;1900 hGE/mL</text>
<text x="282.20" y="615.45" font-size="8.6" text-anchor="start" font-weight="normal" font-style="normal" fill="#231f20" stroke="#231f20" stroke-width="0.18" textLength="61.5" lengthAdjust="spacingAndGlyphs">&lt;1900 hGE/mL</text>
<text x="369.40" y="604.05" font-size="8.8" text-anchor="middle" font-weight="normal" font-style="normal" fill="#231f20" stroke="#231f20" stroke-width="0.18" >20</text>
<text x="369.40" y="614.95" font-size="8.8" text-anchor="middle" font-weight="normal" font-style="normal" fill="#231f20" stroke="#231f20" stroke-width="0.18" >4</text>
<text x="396.44" y="604.05" font-size="8.8" text-anchor="middle" font-weight="normal" font-style="normal" fill="#231f20" stroke="#231f20" stroke-width="0.18" >14</text>
<rect x="395.54" y="612.05" width="4.0" height="1.0" fill="#231f20"/>
<text x="423.48" y="604.05" font-size="8.8" text-anchor="middle" font-weight="normal" font-style="normal" fill="#231f20" stroke="#231f20" stroke-width="0.18" >7</text>
<rect x="422.58" y="612.05" width="4.0" height="1.0" fill="#231f20"/>
<text x="450.52" y="604.05" font-size="8.8" text-anchor="middle" font-weight="normal" font-style="normal" fill="#231f20" stroke="#231f20" stroke-width="0.18" >3</text>
<rect x="449.62" y="612.05" width="4.0" height="1.0" fill="#231f20"/>
<text x="477.56" y="604.05" font-size="8.8" text-anchor="middle" font-weight="normal" font-style="normal" fill="#231f20" stroke="#231f20" stroke-width="0.18" >1</text>
<rect x="476.66" y="612.05" width="4.0" height="1.0" fill="#231f20"/>
<rect x="503.70" y="601.15" width="4.0" height="1.0" fill="#231f20"/>
<rect x="503.70" y="612.05" width="4.0" height="1.0" fill="#231f20"/>
<text x="13.50" y="637.20" font-size="15.5" text-anchor="start" font-weight="bold" font-style="normal" fill="#000" stroke="#000" stroke-width="0.18" >G</text>
<text x="167.57" y="636.15" font-size="9.3" text-anchor="middle" font-weight="bold" font-style="normal" fill="#000" stroke="#000" stroke-width="0.18" >DLBCL</text>
<rect x="94.05" y="643.75" width="147.05" height="112.65" fill="none" stroke="#000" stroke-width="1.7"/>
<line x1="90.05" y1="752.50" x2="94.05" y2="752.50" stroke="#000" stroke-width="1.3"/>
<text x="86.25" y="755.60" font-size="9.7" text-anchor="end" font-weight="normal" font-style="normal" fill="#231f20" stroke="#231f20" stroke-width="0.18" >0</text>
<line x1="90.05" y1="731.62" x2="94.05" y2="731.62" stroke="#000" stroke-width="1.3"/>
<text x="86.25" y="734.72" font-size="9.7" text-anchor="end" font-weight="normal" font-style="normal" fill="#231f20" stroke="#231f20" stroke-width="0.18" >20</text>
<line x1="90.05" y1="710.74" x2="94.05" y2="710.74" stroke="#000" stroke-width="1.3"/>
<text x="86.25" y="713.84" font-size="9.7" text-anchor="end" font-weight="normal" font-style="normal" fill="#231f20" stroke="#231f20" stroke-width="0.18" >40</text>
<line x1="90.05" y1="689.86" x2="94.05" y2="689.86" stroke="#000" stroke-width="1.3"/>
<text x="86.25" y="692.96" font-size="9.7" text-anchor="end" font-weight="normal" font-style="normal" fill="#231f20" stroke="#231f20" stroke-width="0.18" >60</text>
<line x1="90.05" y1="668.98" x2="94.05" y2="668.98" stroke="#000" stroke-width="1.3"/>
<text x="86.25" y="672.08" font-size="9.7" text-anchor="end" font-weight="normal" font-style="normal" fill="#231f20" stroke="#231f20" stroke-width="0.18" >80</text>
<line x1="90.05" y1="648.10" x2="94.05" y2="648.10" stroke="#000" stroke-width="1.3"/>
<text x="86.25" y="651.20" font-size="9.7" text-anchor="end" font-weight="normal" font-style="normal" fill="#231f20" stroke="#231f20" stroke-width="0.18" >100</text>
<line x1="99.40" y1="756.40" x2="99.40" y2="760.40" stroke="#000" stroke-width="1.3"/>
<text x="99.40" y="770.90" font-size="9.6" text-anchor="middle" font-weight="normal" font-style="normal" fill="#231f20" stroke="#231f20" stroke-width="0.18" >0</text>
<line x1="126.58" y1="756.40" x2="126.58" y2="760.40" stroke="#000" stroke-width="1.3"/>
<text x="126.58" y="770.90" font-size="9.6" text-anchor="middle" font-weight="normal" font-style="normal" fill="#231f20" stroke="#231f20" stroke-width="0.18" >5</text>
<line x1="153.76" y1="756.40" x2="153.76" y2="760.40" stroke="#000" stroke-width="1.3"/>
<text x="153.76" y="770.90" font-size="9.6" text-anchor="middle" font-weight="normal" font-style="normal" fill="#231f20" stroke="#231f20" stroke-width="0.18" >10</text>
<line x1="180.94" y1="756.40" x2="180.94" y2="760.40" stroke="#000" stroke-width="1.3"/>
<text x="180.94" y="770.90" font-size="9.6" text-anchor="middle" font-weight="normal" font-style="normal" fill="#231f20" stroke="#231f20" stroke-width="0.18" >15</text>
<line x1="208.12" y1="756.40" x2="208.12" y2="760.40" stroke="#000" stroke-width="1.3"/>
<text x="208.12" y="770.90" font-size="9.6" text-anchor="middle" font-weight="normal" font-style="normal" fill="#231f20" stroke="#231f20" stroke-width="0.18" >20</text>
<line x1="235.30" y1="756.40" x2="235.30" y2="760.40" stroke="#000" stroke-width="1.3"/>
<text x="235.30" y="770.90" font-size="9.6" text-anchor="middle" font-weight="normal" font-style="normal" fill="#231f20" stroke="#231f20" stroke-width="0.18" >25</text>
<text x="167.57" y="786.90" font-size="11.6" text-anchor="middle" fill="#231f20" stroke="#231f20" stroke-width="0.42" textLength="25.4" lengthAdjust="spacingAndGlyphs">Months</text>
<text transform="translate(64.05,700.08) rotate(-90)" x="0" y="0" font-size="10.5" text-anchor="middle" fill="#231f20" stroke="#231f20" stroke-width="0.36" textLength="30" lengthAdjust="spacingAndGlyphs">PFS (%)</text>
<text x="234.60" y="653.20" font-size="9.2" text-anchor="end" fill="#2b2b2b" stroke="#2b2b2b" stroke-width="0.18"><tspan font-style="italic">P</tspan><tspan dx="1.6" font-size="10.2">=</tspan><tspan dx="1.0">.004</tspan></text>
<text x="123.74" y="669.80" font-size="9.4" text-anchor="start" font-weight="normal" font-style="normal" fill="#c5002b" stroke="#c5002b" stroke-width="0.18" textLength="99.66" lengthAdjust="spacingAndGlyphs">Median PFS: 20.8 months</text>
<text x="105.43" y="752.90" font-size="9.4" text-anchor="start" font-weight="normal" font-style="normal" fill="#0b4886" stroke="#0b4886" stroke-width="0.18" textLength="94.87" lengthAdjust="spacingAndGlyphs">Median PFS: 2.2 months</text>
<path d="M99.4,648.1 H105.9 V652.1 H107.9 V654.2 H108.6 V657.6 H109.7 V667.7 H111.3 V670 H112 V672.5 H113.3 V677.2 H123.5 V683.3 H124.2 V688.1 H141.1 V693.6 H212.3 V752.5" fill="none" stroke="#c5002b" stroke-width="2.0" stroke-linejoin="miter"/>
<path d="M99.4,648.1 H103.4 V662.6 H109.2 V677.9 H110.6 V692.8 H111.3 V707.8 H112.2 V722.4 H116.3 V737.6 H137.1 V752.5" fill="none" stroke="#0b4886" stroke-width="2.0" stroke-linejoin="miter"/>
<ellipse cx="123.50" cy="677.20" rx="1.35" ry="2.25" fill="#c5002b"/>
<ellipse cx="171.70" cy="693.60" rx="1.35" ry="2.25" fill="#c5002b"/>
<ellipse cx="179.50" cy="693.60" rx="1.35" ry="2.25" fill="#c5002b"/>
<ellipse cx="184.80" cy="693.60" rx="1.35" ry="2.25" fill="#c5002b"/>
<ellipse cx="198.80" cy="693.60" rx="1.35" ry="2.25" fill="#c5002b"/>
<ellipse cx="201.70" cy="693.60" rx="1.35" ry="2.25" fill="#c5002b"/>
<ellipse cx="204.60" cy="693.60" rx="1.35" ry="2.25" fill="#c5002b"/>
<ellipse cx="209.20" cy="693.60" rx="1.35" ry="2.25" fill="#c5002b"/>
<text x="76.40" y="796.20" font-size="8.6" text-anchor="start" font-weight="normal" font-style="normal" fill="#231f20" stroke="#231f20" stroke-width="0.18" >No. at risk</text>
<rect x="76.80" y="802.80" width="12.2" height="3.1" fill="#c5002b"/>
<rect x="76.80" y="813.20" width="12.2" height="3.2" fill="#0b4886"/>
<text x="11.30" y="807.70" font-size="8.6" text-anchor="start" font-weight="normal" font-style="normal" fill="#231f20" stroke="#231f20" stroke-width="0.18" textLength="61.5" lengthAdjust="spacingAndGlyphs">&gt;1900 hGE/mL</text>
<text x="11.30" y="818.20" font-size="8.6" text-anchor="start" font-weight="normal" font-style="normal" fill="#231f20" stroke="#231f20" stroke-width="0.18" textLength="61.5" lengthAdjust="spacingAndGlyphs">&lt;1900 hGE/mL</text>
<text x="99.40" y="806.80" font-size="8.8" text-anchor="middle" font-weight="normal" font-style="normal" fill="#231f20" stroke="#231f20" stroke-width="0.18" >21</text>
<text x="99.40" y="817.70" font-size="8.8" text-anchor="middle" font-weight="normal" font-style="normal" fill="#231f20" stroke="#231f20" stroke-width="0.18" >7</text>
<text x="126.58" y="806.80" font-size="8.8" text-anchor="middle" font-weight="normal" font-style="normal" fill="#231f20" stroke="#231f20" stroke-width="0.18" >12</text>
<text x="126.58" y="817.70" font-size="8.8" text-anchor="middle" font-weight="normal" font-style="normal" fill="#231f20" stroke="#231f20" stroke-width="0.18" >1</text>
<text x="153.76" y="806.80" font-size="8.8" text-anchor="middle" font-weight="normal" font-style="normal" fill="#231f20" stroke="#231f20" stroke-width="0.18" >11</text>
<rect x="152.26" y="814.80" width="4.0" height="1.0" fill="#231f20"/>
<text x="180.94" y="806.80" font-size="8.8" text-anchor="middle" font-weight="normal" font-style="normal" fill="#231f20" stroke="#231f20" stroke-width="0.18" >9</text>
<rect x="179.44" y="814.80" width="4.0" height="1.0" fill="#231f20"/>
<text x="208.12" y="806.80" font-size="8.8" text-anchor="middle" font-weight="normal" font-style="normal" fill="#231f20" stroke="#231f20" stroke-width="0.18" >3</text>
<rect x="206.62" y="814.80" width="4.0" height="1.0" fill="#231f20"/>
<rect x="233.80" y="803.90" width="4.0" height="1.0" fill="#231f20"/>
<rect x="233.80" y="814.80" width="4.0" height="1.0" fill="#231f20"/>
<text x="288.20" y="637.20" font-size="15.5" text-anchor="start" font-weight="bold" font-style="normal" fill="#000" stroke="#000" stroke-width="0.18" >H</text>
<text x="438.15" y="636.15" font-size="9.3" text-anchor="middle" font-weight="bold" font-style="normal" fill="#000" stroke="#000" stroke-width="0.18" >RS</text>
<rect x="365.1" y="643.75" width="144.90" height="111.65" fill="none" stroke="#000" stroke-width="1.7"/>
<line x1="361.10" y1="751.50" x2="365.10" y2="751.50" stroke="#000" stroke-width="1.3"/>
<text x="357.30" y="754.60" font-size="9.7" text-anchor="end" font-weight="normal" font-style="normal" fill="#231f20" stroke="#231f20" stroke-width="0.18" >0</text>
<line x1="361.10" y1="730.85" x2="365.10" y2="730.85" stroke="#000" stroke-width="1.3"/>
<text x="357.30" y="733.95" font-size="9.7" text-anchor="end" font-weight="normal" font-style="normal" fill="#231f20" stroke="#231f20" stroke-width="0.18" >20</text>
<line x1="361.10" y1="710.20" x2="365.10" y2="710.20" stroke="#000" stroke-width="1.3"/>
<text x="357.30" y="713.30" font-size="9.7" text-anchor="end" font-weight="normal" font-style="normal" fill="#231f20" stroke="#231f20" stroke-width="0.18" >40</text>
<line x1="361.10" y1="689.55" x2="365.10" y2="689.55" stroke="#000" stroke-width="1.3"/>
<text x="357.30" y="692.65" font-size="9.7" text-anchor="end" font-weight="normal" font-style="normal" fill="#231f20" stroke="#231f20" stroke-width="0.18" >60</text>
<line x1="361.10" y1="668.90" x2="365.10" y2="668.90" stroke="#000" stroke-width="1.3"/>
<text x="357.30" y="672.00" font-size="9.7" text-anchor="end" font-weight="normal" font-style="normal" fill="#231f20" stroke="#231f20" stroke-width="0.18" >80</text>
<line x1="361.10" y1="648.25" x2="365.10" y2="648.25" stroke="#000" stroke-width="1.3"/>
<text x="357.30" y="651.35" font-size="9.7" text-anchor="end" font-weight="normal" font-style="normal" fill="#231f20" stroke="#231f20" stroke-width="0.18" >100</text>
<line x1="370.00" y1="755.40" x2="370.00" y2="759.40" stroke="#000" stroke-width="1.3"/>
<text x="370.00" y="769.90" font-size="9.6" text-anchor="middle" font-weight="normal" font-style="normal" fill="#231f20" stroke="#231f20" stroke-width="0.18" >0</text>
<line x1="397.00" y1="755.40" x2="397.00" y2="759.40" stroke="#000" stroke-width="1.3"/>
<text x="397.00" y="769.90" font-size="9.6" text-anchor="middle" font-weight="normal" font-style="normal" fill="#231f20" stroke="#231f20" stroke-width="0.18" >5</text>
<line x1="424.00" y1="755.40" x2="424.00" y2="759.40" stroke="#000" stroke-width="1.3"/>
<text x="424.00" y="769.90" font-size="9.6" text-anchor="middle" font-weight="normal" font-style="normal" fill="#231f20" stroke="#231f20" stroke-width="0.18" >10</text>
<line x1="451.00" y1="755.40" x2="451.00" y2="759.40" stroke="#000" stroke-width="1.3"/>
<text x="451.00" y="769.90" font-size="9.6" text-anchor="middle" font-weight="normal" font-style="normal" fill="#231f20" stroke="#231f20" stroke-width="0.18" >15</text>
<line x1="478.00" y1="755.40" x2="478.00" y2="759.40" stroke="#000" stroke-width="1.3"/>
<text x="478.00" y="769.90" font-size="9.6" text-anchor="middle" font-weight="normal" font-style="normal" fill="#231f20" stroke="#231f20" stroke-width="0.18" >20</text>
<line x1="505.00" y1="755.40" x2="505.00" y2="759.40" stroke="#000" stroke-width="1.3"/>
<text x="505.00" y="769.90" font-size="9.6" text-anchor="middle" font-weight="normal" font-style="normal" fill="#231f20" stroke="#231f20" stroke-width="0.18" >25</text>
<text x="438.15" y="785.90" font-size="11.6" text-anchor="middle" fill="#231f20" stroke="#231f20" stroke-width="0.42" textLength="25.4" lengthAdjust="spacingAndGlyphs">Months</text>
<text transform="translate(335.10,699.58) rotate(-90)" x="0" y="0" font-size="10.5" text-anchor="middle" fill="#231f20" stroke="#231f20" stroke-width="0.36" textLength="30" lengthAdjust="spacingAndGlyphs">PFS (%)</text>
<text x="505.10" y="654.00" font-size="9.2" text-anchor="end" fill="#2b2b2b" stroke="#2b2b2b" stroke-width="0.18"><tspan font-style="italic">P</tspan><tspan dx="1.6" font-size="10.2">=</tspan><tspan dx="1.0">.07</tspan></text>
<text x="402.03" y="670.10" font-size="9.4" text-anchor="start" font-weight="normal" font-style="normal" fill="#c5002b" stroke="#c5002b" stroke-width="0.18" textLength="94.87" lengthAdjust="spacingAndGlyphs">Median PFS: 8.8 months</text>
<text x="400.93" y="752.20" font-size="9.4" text-anchor="start" font-weight="normal" font-style="normal" fill="#0b4886" stroke="#0b4886" stroke-width="0.18" textLength="94.87" lengthAdjust="spacingAndGlyphs">Median PFS: 3.3 months</text>
<path d="M370,648.25 H376 V657.1 H382.2 V667.8 H383.7 V678.2 H417.5 V702.5 H446.2" fill="none" stroke="#c5002b" stroke-width="2.0" stroke-linejoin="miter"/>
<path d="M370,648.25 H377.1 V674.3 H386.8 V700.2 H389.4 V725.5 H398.3 V751.7" fill="none" stroke="#0b4886" stroke-width="2.0" stroke-linejoin="miter"/>
<ellipse cx="381.40" cy="657.10" rx="1.35" ry="2.25" fill="#c5002b"/>
<ellipse cx="405.70" cy="678.20" rx="1.35" ry="2.25" fill="#c5002b"/>
<ellipse cx="417.50" cy="678.20" rx="1.35" ry="2.25" fill="#c5002b"/>
<ellipse cx="430.80" cy="702.50" rx="1.35" ry="2.25" fill="#c5002b"/>
<ellipse cx="445.40" cy="702.50" rx="1.35" ry="2.25" fill="#c5002b"/>
<text x="348.30" y="795.20" font-size="8.6" text-anchor="start" font-weight="normal" font-style="normal" fill="#231f20" stroke="#231f20" stroke-width="0.18" >No. at risk</text>
<rect x="348.70" y="801.80" width="12.2" height="3.1" fill="#c5002b"/>
<rect x="348.70" y="812.20" width="12.2" height="3.2" fill="#0b4886"/>
<text x="283.00" y="806.70" font-size="8.6" text-anchor="start" font-weight="normal" font-style="normal" fill="#231f20" stroke="#231f20" stroke-width="0.18" textLength="61.5" lengthAdjust="spacingAndGlyphs">&gt;1900 hGE/mL</text>
<text x="283.00" y="817.20" font-size="8.6" text-anchor="start" font-weight="normal" font-style="normal" fill="#231f20" stroke="#231f20" stroke-width="0.18" textLength="61.5" lengthAdjust="spacingAndGlyphs">&lt;1900 hGE/mL</text>
<text x="370.00" y="805.80" font-size="8.8" text-anchor="middle" font-weight="normal" font-style="normal" fill="#231f20" stroke="#231f20" stroke-width="0.18" >11</text>
<text x="370.00" y="816.70" font-size="8.8" text-anchor="middle" font-weight="normal" font-style="normal" fill="#231f20" stroke="#231f20" stroke-width="0.18" >4</text>
<text x="397.00" y="805.80" font-size="8.8" text-anchor="middle" font-weight="normal" font-style="normal" fill="#231f20" stroke="#231f20" stroke-width="0.18" >6</text>
<text x="397.00" y="816.70" font-size="8.8" text-anchor="middle" font-weight="normal" font-style="normal" fill="#231f20" stroke="#231f20" stroke-width="0.18" >1</text>
<text x="424.00" y="805.80" font-size="8.8" text-anchor="middle" font-weight="normal" font-style="normal" fill="#231f20" stroke="#231f20" stroke-width="0.18" >2</text>
<rect x="423.10" y="813.80" width="4.0" height="1.0" fill="#231f20"/>
<rect x="450.10" y="802.90" width="4.0" height="1.0" fill="#231f20"/>
<rect x="450.10" y="813.80" width="4.0" height="1.0" fill="#231f20"/>
<rect x="477.10" y="802.90" width="4.0" height="1.0" fill="#231f20"/>
<rect x="477.10" y="813.80" width="4.0" height="1.0" fill="#231f20"/>
<rect x="504.10" y="802.90" width="4.0" height="1.0" fill="#231f20"/>
<rect x="504.10" y="813.80" width="4.0" height="1.0" fill="#231f20"/>
</svg>
</div></body></html>
